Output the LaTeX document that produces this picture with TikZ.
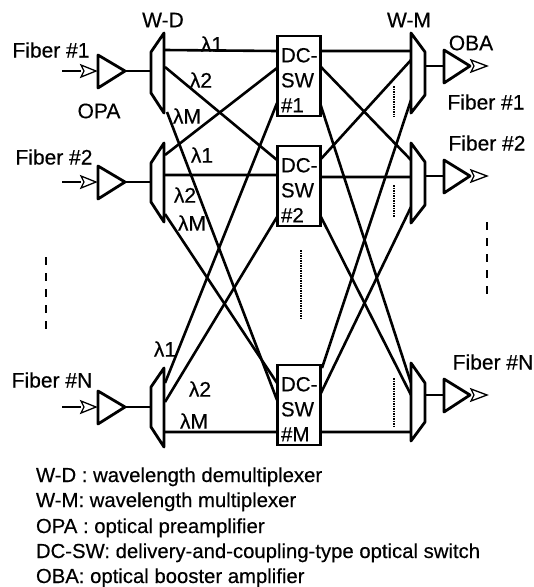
\documentclass[tikz,border=0pt]{standalone}
\usepackage{fontspec}
\setmainfont[FakeBold=0.35]{Liberation Sans}
\begin{document}
\begin{tikzpicture}[x=1pt,y=-1pt,
  every node/.style={inner sep=0pt,outer sep=0pt},
  lbl/.style={font=\fontsize{21}{21}\selectfont},
  leg/.style={font=\fontsize{20.3}{20.3}\selectfont,anchor=base west},
  wire/.style={line width=2.6pt},
  part/.style={line width=2.8pt,line join=round,fill=white},
  tip/.style={line width=1.3pt,fill=white,line join=miter},
  swbox/.style={draw,line width=2.8pt,fill=white,minimum width=43pt,minimum height=80pt},
  swtxt/.style={align=left,anchor=north west,font=\fontsize{20.5}{25}\selectfont},
  dotmark/.style={line width=1.5pt,densely dotted},
  dashmark/.style={line width=2.4pt,dash pattern=on 8pt off 8pt}]
\useasboundingbox (0,0) rectangle (534,587);
\fill[white] (0,0) rectangle (534,587);
% switches
\coordinate (s1c) at (299,76);
\coordinate (s2c) at (299,186);
\coordinate (smc) at (299,405);
% demux ports
\coordinate (d1a) at (165,50); \coordinate (d1b) at (165,67); \coordinate (d1m) at (167,112);
\coordinate (d2a) at (165,155); \coordinate (d2b) at (165,175); \coordinate (d2m) at (165,214);
\coordinate (dna) at (165,383); \coordinate (dnb) at (165,402); \coordinate (dnm) at (165,432);
% switch left ports
\coordinate (l1a) at (277,51); \coordinate (l1b) at (277,68); \coordinate (l1m) at (277,103);
\coordinate (l2a) at (277,160); \coordinate (l2b) at (277,175); \coordinate (l2m) at (277,217);
\coordinate (lma) at (277,400); \coordinate (lmb) at (277,383); \coordinate (lmm) at (277,432);
% switch right ports
\coordinate (r1a) at (320,51); \coordinate (r1b) at (320,66); \coordinate (r1m) at (320,103);
\coordinate (r2a) at (320,160); \coordinate (r2b) at (320,177); \coordinate (r2m) at (320,215);
\coordinate (rma) at (322,368); \coordinate (rmb) at (320,395); \coordinate (rmm) at (320,432);
% mux ports
\coordinate (m1a) at (411,51); \coordinate (m1b) at (411,60); \coordinate (m1m) at (411,100);
\coordinate (m2a) at (411,160); \coordinate (m2b) at (411,177); \coordinate (m2m) at (411,207);
\coordinate (mna) at (411,383); \coordinate (mnb) at (411,395); \coordinate (mnm) at (411,432);
% fibre wires
\draw[wire] (d1a)--(l1a) (d1b)--(l2a) (d1m)--(lma);
\draw[wire] (d2a)--(l1b) (d2b)--(l2b) (d2m)--(lmb);
\draw[wire] (dna)--(l1m) (dnb)--(l2m) (dnm)--(lmm);
\draw[wire] (r1a)--(m1a) (r1b)--(m2a) (r1m)--(mna);
\draw[wire] (r2a)--(m1b) (r2b)--(m2b) (r2m)--(mnb);
\draw[wire] (rma)--(m1m) (rmb)--(m2m) (rmm)--(mnm);
% switch boxes
\node[swbox] (s1) at (s1c) {};
\node[swbox] (s2) at (s2c) {};
\node[swbox] (sm) at (smc) {};
\node[swtxt] (s1t) at ([xshift=3.5pt,yshift=-12pt]s1.north west) {DC-\\SW\\\#1};
\node[swtxt] (s2t) at ([xshift=3.5pt,yshift=-12pt]s2.north west) {DC-\\SW\\\#2};
\node[swtxt] (smt) at ([xshift=3.5pt,yshift=-12pt]sm.north west) {DC-\\SW\\\#M};
% demux/mux
\draw[part] (164,33)--(164,113)--(151,93)--(151,52)--cycle;
\draw[part] (164,143)--(164,222)--(151,202)--(151,163)--cycle;
\draw[part] (164,368)--(164,447)--(151,427)--(151,387)--cycle;
\draw[part] (411,33)--(425,52)--(425,95)--(411,113)--cycle;
\draw[part] (411,143)--(425,162)--(425,205)--(411,223)--cycle;
\draw[part] (411,363)--(425,383)--(425,422)--(411,441)--cycle;
% input side
\foreach \y/\n in {71/a,182/b,407/c}{
  \draw[wire] (62,\y)--(81,\y);
  \draw[tip] (96,\y)--(81,\y-6)--(84,\y)--(81,\y+6)--cycle;
  \draw[part] (98,\y-16)--(98,\y+17)--(125,\y)--cycle;
  \draw[wire] (125,\y)--(151,\y);
}
% output side
\foreach \y/\n in {66/a,176/b,395/c}{
  \draw[wire] (425,\y)--(444,\y);
  \draw[part] (444,\y-16)--(444,\y+17)--(470,\y)--cycle;
  \draw[tip] (487,\y)--(471,\y-6)--(474,\y)--(471,\y+6)--cycle;
}
% dotted and dashed marks
\draw[dotmark] (394,86)--(394,117);
\draw[dotmark] (394,185)--(394,217);
\draw[dotmark] (394,378)--(394,427);
\draw[dotmark] (301,250)--(301,320);
\draw[dashmark] (46,257)--(46,330);
\draw[dashmark] (487,222)--(487,295);
% labels
\node[lbl] (tWD) at (163,20) {W-D};
\node[lbl] (tWM) at (409,20) {W-M};
\node[lbl] (tF1) at (51,50) {Fiber \#1};
\node[lbl] (tOPA) at (99,111) {OPA};
\node[lbl] (tF2) at (54,157) {Fiber \#2};
\node[lbl] (tFN) at (52,380) {Fiber \#N};
\node[lbl] (tOBA) at (471,43) {OBA};
\node[lbl] (rF1) at (486,102) {Fiber \#1};
\node[lbl] (rF2) at (487,143) {Fiber \#2};
\node[lbl] (rFN) at (493,362) {Fiber \#N};
\node[lbl] (a1) at (212,44) {λ1};
\node[lbl] (a2) at (201,80) {λ2};
\node[lbl] (a3) at (187,116) {λM};
\node[lbl] (b1) at (202,155) {λ1};
\node[lbl] (b2) at (185,195) {λ2};
\node[lbl] (b3) at (192,223) {λM};
\node[lbl] (c1) at (165,349) {λ1};
\node[lbl] (c2) at (200,389) {λ2};
\node[lbl] (c3) at (194,421) {λM};
% legend
\node[leg] (k1) at (36,482) {W-D : wavelength demultiplexer};
\node[leg] (k2) at (36,507) {W-M: wavelength multiplexer};
\node[leg] (k3) at (36,533) {OPA : optical preamplifier};
\node[leg] (k4) at (36,558) {DC-SW: delivery-and-coupling-type optical switch};
\node[leg] (k5) at (36,583) {OBA: optical booster amplifier};
\end{tikzpicture}
\end{document}
